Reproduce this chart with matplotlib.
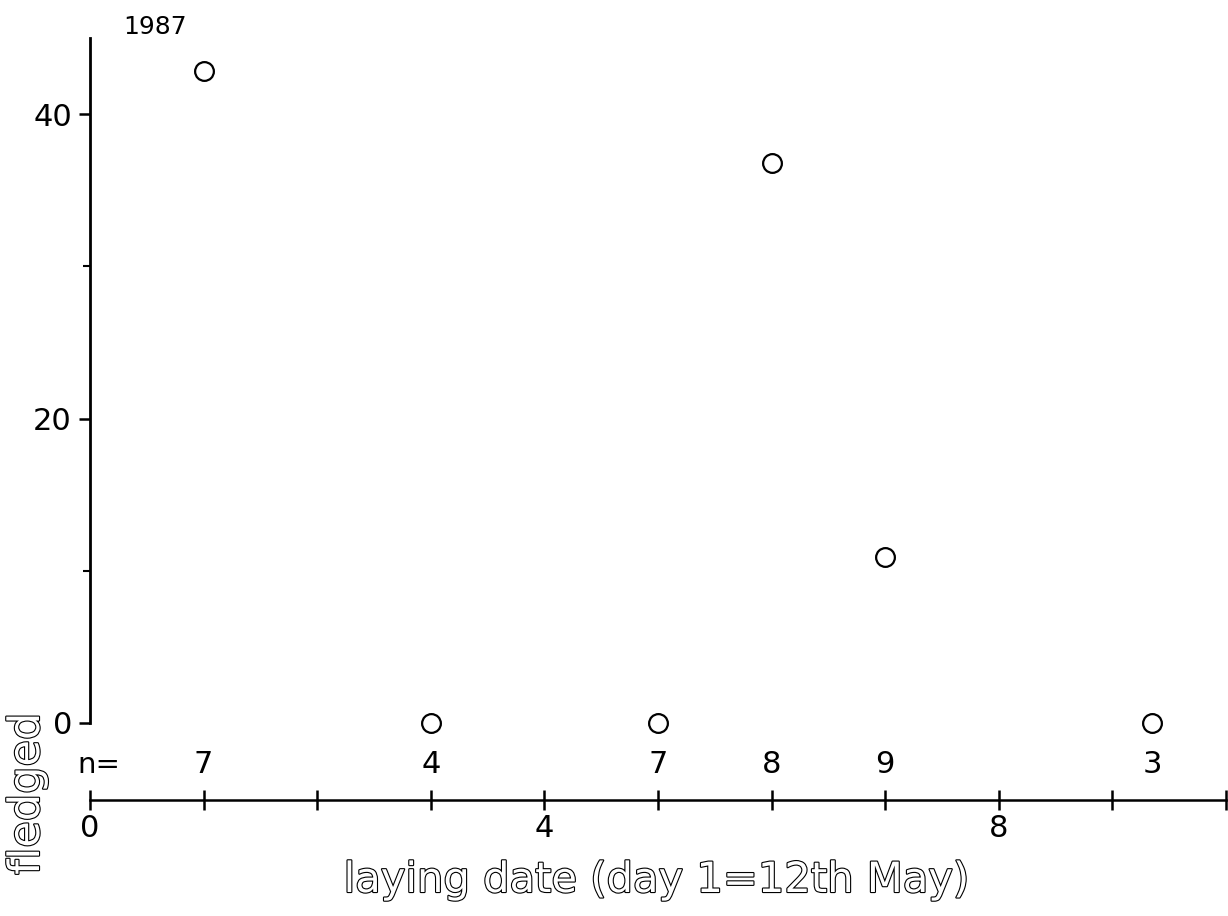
import matplotlib
matplotlib.use("Agg")
import matplotlib.pyplot as plt
import matplotlib.patheffects as pe

plt.rcParams['font.family'] = ['DejaVu Sans']

# laying date (day 1 = 12th May) and percentage fledged
laying_day = [1, 3, 5, 6, 7, 9.35]
fledged = [42.8, 0, 0, 36.8, 10.9, 0]
n_nests = [7, 4, 7, 8, 9, 3]

x_ticks = [0, 1, 2, 3, 4, 5, 6, 7, 8, 9, 10]
x_tick_labels = ['0', '', '', '', '4', '', '', '', '8', '', '']
y_major = [0, 20, 40]
y_minor = [10, 30]

fig = plt.figure(figsize=(12.28, 9.16), dpi=100)
ax = fig.add_axes([90 / 1228, 116 / 916, 1136 / 1228, 762 / 916])
ax.set_xlim(0, 10)
ax.set_ylim(-5.06, 45)

ax.plot(laying_day, fledged, linestyle='none', marker='o', markersize=13.5,
        markerfacecolor='white', markeredgecolor='black', markeredgewidth=1.6,
        clip_on=False)

# spines: vertical axis from 0 to 45, horizontal axis below the n row
for s in ['top', 'right']:
    ax.spines[s].set_visible(False)
ax.spines['left'].set_bounds(0, 45)
ax.spines['left'].set_linewidth(2)
ax.spines['bottom'].set_linewidth(1.8)

ax.set_yticks(y_major)
ax.set_yticklabels([str(v) for v in y_major], fontsize=22)
ax.set_yticks(y_minor, minor=True)
ax.tick_params(axis='y', which='major', direction='out', length=8, width=1.8, pad=5)
ax.tick_params(axis='y', which='minor', direction='out', length=5, width=1.5)

ax.set_xticks(x_ticks)
ax.set_xticklabels(x_tick_labels, fontsize=22)
ax.tick_params(axis='x', which='major', direction='inout', length=14, width=1.8, pad=3)

# sample sizes above the horizontal axis
ax.text(-0.11, -2.76, 'n=', fontsize=21, ha='left', va='center')
for xd, n in zip(laying_day, n_nests):
    ax.text(xd, -2.76, str(n), fontsize=22, ha='center', va='center')

fig.text(155 / 1228, 1 - 27 / 916, '1987', fontsize=18, ha='center', va='center')

outline = [pe.Stroke(linewidth=1.6, foreground='black'), pe.Normal()]
fig.text(656 / 1228, 1 - 880 / 916, 'laying date (day 1=12th May)',
         fontsize=30, color='white', ha='center', va='center', path_effects=outline)
fig.text(27 / 1228, 1 - 794 / 916, 'fledged', rotation=90, fontsize=31,
         color='white', ha='center', va='center', path_effects=outline)

fig.savefig('out.png', dpi=100, facecolor='white')
